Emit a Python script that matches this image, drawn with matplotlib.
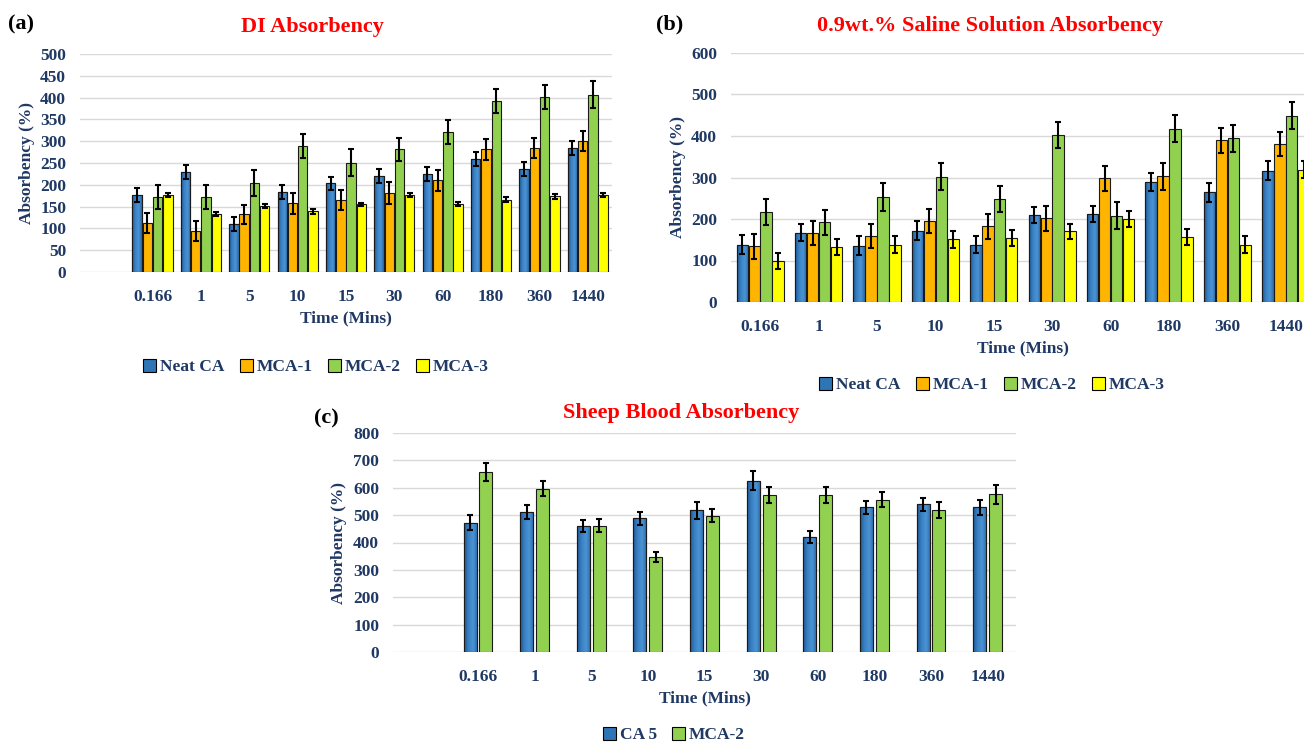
import matplotlib
matplotlib.use("Agg")
import matplotlib.pyplot as plt
from matplotlib.colors import LinearSegmentedColormap
import numpy as np

# ---------------- data ----------------
times = ["0.166", "1", "5", "10", "15", "30", "60", "180", "360", "1440"]

# (a) DI absorbency
di_neat = [177, 230, 110, 184, 204, 220, 225, 259, 237, 285]
di_mca1 = [112, 95, 132, 158, 165, 182, 210, 281, 285, 300]
di_mca2 = [172, 172, 204, 289, 251, 281, 321, 392, 401, 407]
di_mca3 = [177, 133, 151, 139, 155, 177, 156, 166, 174, 176]
di_neat_err = [16, 16, 15, 16, 15, 17, 16, 16, 16, 16]
di_mca1_err = [23, 23, 22, 24, 23, 25, 24, 23, 23, 23]
di_mca2_err = [28, 28, 30, 28, 30, 27, 28, 27, 28, 30]
di_mca3_err = [5, 5, 5, 5, 4, 5, 5, 5, 6, 5]

# (b) 0.9 wt.% saline absorbency
sal_neat = [138, 167, 136, 172, 138, 210, 212, 289, 264, 316]
sal_mca1 = [134, 167, 158, 195, 182, 202, 298, 303, 390, 381]
sal_mca2 = [216, 192, 253, 302, 248, 403, 208, 418, 394, 449]
sal_mca3 = [98, 132, 138, 151, 154, 170, 200, 157, 138, 319]
sal_neat_err = [23, 20, 22, 22, 20, 20, 20, 22, 22, 23]
sal_mca1_err = [31, 29, 29, 29, 29, 30, 30, 33, 30, 29]
sal_mca2_err = [31, 30, 33, 32, 32, 31, 32, 32, 33, 33]
sal_mca3_err = [19, 19, 20, 20, 20, 18, 20, 20, 20, 20]

# (c) sheep blood absorbency
bl_ca5 = [473, 511, 460, 488, 518, 626, 420, 528, 539, 528]
bl_mca2 = [657, 597, 462, 347, 498, 573, 573, 557, 519, 576]
bl_ca5_err = [26, 25, 23, 25, 31, 34, 21, 24, 24, 28]
bl_mca2_err = [34, 28, 25, 17, 24, 29, 29, 29, 30, 34]

# ---------------- style ----------------
NAVY = "#1F3864"
C_BLUE = "#2E75B6"
C_ORANGE = "#FFB400"
C_GREEN = "#92D050"
C_YELLOW = "#FFFF00"
SERIF = ["Liberation Serif", "DejaVu Serif"]
plt.rcParams["font.family"] = SERIF
plt.rcParams["font.weight"] = "bold"

BLUE_CMAP = LinearSegmentedColormap.from_list("bl", ["#1E5794", "#3A82C4", "#4A93D4", "#2C69A8"])
GRAD = np.linspace(0, 1, 64).reshape(1, -1)

fig = plt.figure(figsize=(13.04, 7.42), dpi=100)


def style_axes(ax, ymax, ystep, xlim):
    ax.set_ylim(0, ymax)
    ax.set_yticks(np.arange(0, ymax + 1, ystep))
    ax.set_xlim(*xlim)
    for s in ax.spines.values():
        s.set_visible(False)
    ax.grid(axis="y", color="#D9D9D9", linewidth=1.0)
    ax.set_axisbelow(True)
    ax.tick_params(length=0, labelcolor=NAVY, labelsize=12.5)
    ax.tick_params(axis="x", pad=12)
    ax.tick_params(axis="y", pad=10)
    for t in ax.get_xticklabels() + ax.get_yticklabels():
        t.set_fontweight("bold")
    ax.set_ylabel("Absorbency (%)", color=NAVY, fontsize=12.5, fontweight="bold", labelpad=4)
    ax.set_xlabel("Time (Mins)", color=NAVY, fontsize=12.5, fontweight="bold", labelpad=4)


def grouped(ax, x, series, errs, colors, width, step, labels):
    n = len(series)
    offs = (np.arange(n) - (n - 1) / 2) * step
    handles = []
    for vals, e, c, o, lab in zip(series, errs, colors, offs, labels):
        h = ax.bar(x + o, vals, width, color=c, edgecolor="#1a1a1a", linewidth=0.8,
                   yerr=e, capsize=2.5,
                   error_kw=dict(ecolor="black", elinewidth=1.5, capthick=1.5, zorder=4),
                   label=lab, zorder=2)
        if c == C_BLUE:
            for r in h.patches:
                x0, y0 = r.get_x(), r.get_y()
                im = ax.imshow(GRAD, cmap=BLUE_CMAP, aspect="auto", interpolation="bilinear",
                               extent=(x0, x0 + r.get_width(), y0, y0 + r.get_height()),
                               zorder=2.5)
                im.set_clip_path(r)
                ax.bar(x0 + r.get_width() / 2, r.get_height(), r.get_width(), facecolor="none",
                       edgecolor="#1a1a1a", linewidth=0.8, zorder=3)
        handles.append(h)
    return handles


def legend(ax, handles, labels, xc, yc, ncol):
    lg = ax.legend(handles, labels, loc="center", bbox_to_anchor=(xc, yc),
                   bbox_transform=fig.transFigure, ncol=ncol, frameon=False,
                   handlelength=0.75, handleheight=0.75, handletextpad=0.2,
                   columnspacing=0.9, prop=dict(family=SERIF, weight="bold", size=12.5))
    for t in lg.get_texts():
        t.set_color(NAVY)
    for p in lg.get_patches():
        p.set_edgecolor("black")


# ---------------- (a) ----------------
axa = fig.add_axes([80 / 1304, 1 - 272 / 742, 532 / 1304, 218 / 742])
xa = np.arange(1, 11)
ha = grouped(axa, xa, [di_neat, di_mca1, di_mca2, di_mca3],
             [di_neat_err, di_mca1_err, di_mca2_err, di_mca3_err],
             [C_BLUE, C_ORANGE, C_GREEN, C_YELLOW], 0.195, 0.212,
             ["Neat CA", "MCA-1", "MCA-2", "MCA-3"])
style_axes(axa, 500, 50, (-0.5, 10.5))
axa.set_xticks(xa)
axa.set_xticklabels(times, fontweight="bold")
axa.set_title("DI Absorbency", color="#FF0000", fontsize=16, fontweight="bold",
              x=(312 - 80) / 532, pad=16)
legend(axa, ha, ["Neat CA", "MCA-1", "MCA-2", "MCA-3"], 316 / 1304, 1 - 367 / 742, 4)
fig.text(8 / 1304, 1 - 24 / 742, "(a)", fontsize=16, fontweight="bold", va="center")

# ---------------- (b) ----------------
axb = fig.add_axes([731 / 1304, 1 - 302 / 742, 584 / 1304, 249 / 742])
xb = np.arange(10)
hb = grouped(axb, xb, [sal_neat, sal_mca1, sal_mca2, sal_mca3],
             [sal_neat_err, sal_mca1_err, sal_mca2_err, sal_mca3_err],
             [C_BLUE, C_ORANGE, C_GREEN, C_YELLOW], 0.195, 0.205,
             ["Neat CA", "MCA-1", "MCA-2", "MCA-3"])
style_axes(axb, 600, 100, (-0.5, 9.5))
axb.set_xticks(xb)
axb.set_xticklabels(times, fontweight="bold")
axb.set_title("0.9wt.% Saline Solution Absorbency", color="#FF0000", fontsize=16,
              fontweight="bold", x=(990 - 731) / 584, pad=16)
legend(axb, hb, ["Neat CA", "MCA-1", "MCA-2", "MCA-3"], 992 / 1304, 1 - 385 / 742, 4)
fig.text(656 / 1304, 1 - 24 / 742, "(b)", fontsize=16, fontweight="bold", va="center")

# ---------------- (c) ----------------
axc = fig.add_axes([393 / 1304, 1 - 652 / 742, 623 / 1304, 219 / 742])
xc = np.arange(1, 11)
hc = grouped(axc, xc, [bl_ca5, bl_mca2], [bl_ca5_err, bl_mca2_err],
             [C_BLUE, C_GREEN], 0.23, 0.28, ["CA 5", "MCA-2"])
style_axes(axc, 800, 100, (-0.5, 10.5))
axc.set_xticks(xc)
axc.set_xticklabels(times, fontweight="bold")
axc.set_title("Sheep Blood Absorbency", color="#FF0000", fontsize=16, fontweight="bold",
              x=(681 - 393) / 623, pad=11)
legend(axc, hc, ["CA 5", "MCA-2"], 674 / 1304, 1 - 735 / 742, 2)
fig.text(314 / 1304, 1 - 418 / 742, "(c)", fontsize=16, fontweight="bold", va="center")

fig.savefig("out.png", dpi=100, facecolor="white")
